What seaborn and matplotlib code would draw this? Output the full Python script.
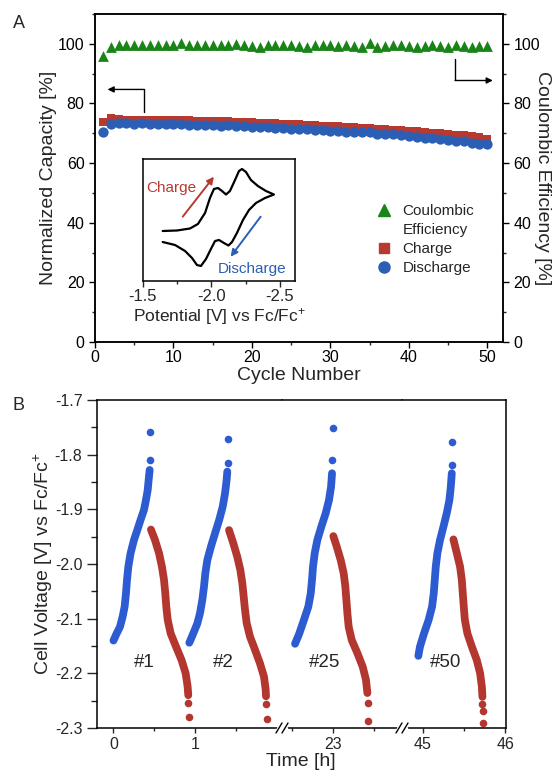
import matplotlib
matplotlib.use("Agg")
import matplotlib.pyplot as plt
import seaborn as sns
from matplotlib.lines import Line2D
from matplotlib.ticker import MultipleLocator, FixedLocator, FormatStrFormatter

sns.set_style("ticks")
plt.rcParams['font.family'] = ['Liberation Sans', 'DejaVu Sans']
plt.rcParams['mathtext.fontset'] = 'custom'
plt.rcParams['mathtext.rm'] = 'Liberation Sans'
plt.rcParams['mathtext.it'] = 'Liberation Sans'
plt.rcParams['mathtext.bf'] = 'Liberation Sans:bold'
plt.rcParams['axes.unicode_minus'] = False

# ---------------- panel A data
cycles = list(range(1, 51))
coulombic = [95.8, 98.9, 99.6, 99.6, 99.6, 99.6, 99.5, 99.6, 99.6, 99.7,
             100.2, 99.6, 99.5, 99.6, 99.6, 99.5, 99.6, 100.0, 99.6, 99.3,
             98.9, 99.5, 99.6, 99.5, 99.6, 99.4, 99.0, 99.6, 99.5, 99.7,
             99.2, 99.6, 99.4, 98.8, 100.3, 99.1, 99.4, 99.6, 99.5, 99.3,
             98.9, 99.4, 99.6, 99.2, 99.1, 99.5, 99.3, 98.9, 99.2, 99.3]
charge_cap = [73.9, 75.0, 74.7, 74.6, 74.6, 74.5, 74.5, 74.5, 74.4, 74.4,
              74.4, 74.3, 74.2, 74.2, 74.1, 74.0, 74.0, 73.9, 73.8, 73.7,
              73.6, 73.4, 73.3, 73.2, 73.2, 73.0, 72.9, 72.8, 72.6, 72.5,
              72.3, 72.2, 72.0, 71.8, 71.8, 71.6, 71.4, 71.2, 71.0, 70.8,
              70.6, 70.4, 70.2, 70.0, 69.8, 69.5, 69.3, 69.0, 68.6, 68.2]
discharge_cap = [70.5, 73.2, 73.3, 73.3, 73.2, 73.3, 73.2, 73.2, 73.1, 73.2,
                 73.1, 72.9, 72.7, 72.8, 72.7, 72.6, 72.7, 72.5, 72.4, 72.2,
                 72.1, 72.0, 71.9, 71.7, 71.6, 71.5, 71.3, 71.1, 71.0, 70.8,
                 70.6, 70.4, 70.5, 70.3, 70.4, 69.9, 69.7, 69.6, 69.3, 69.0,
                 68.7, 68.5, 68.3, 68.0, 67.8, 67.5, 67.3, 66.6, 66.5, 66.3]

# inset cyclic voltammogram (forward branch then return branch, arbitrary current)
cv_potential = [-1.644, -1.748, -1.843, -1.901, -1.953, -1.989, -2.018, -2.047,
                -2.077, -2.106, -2.135, -2.172, -2.201, -2.223, -2.252, -2.288,
                -2.339, -2.398, -2.456,
                -2.391, -2.325, -2.274, -2.230, -2.186, -2.150, -2.124, -2.091,
                -2.055, -2.026, -1.996, -1.960, -1.923, -1.894, -1.858, -1.807,
                -1.734, -1.644]
cv_current = [50, 50.5, 52.5, 57, 68, 83, 92, 93, 90, 86.5, 90, 101, 110, 112,
              109, 101, 95, 90, 86.5,
              83, 78, 71, 61, 48, 39, 35.5, 38, 41, 40, 32, 22, 15, 16, 23, 30,
              36, 39]

# ---------------- panel B data: time [h], voltage [V]
dis1_t = [0.0, 0.039, 0.079, 0.112, 0.136, 0.152, 0.165, 0.181, 0.209, 0.25,
          0.29, 0.331, 0.372, 0.396, 0.417, 0.429, 0.441]
dis1_v = [-2.140, -2.127, -2.115, -2.096, -2.078, -2.054, -2.029, -2.005, -1.980,
          -1.956, -1.938, -1.919, -1.901, -1.883, -1.865, -1.846, -1.828]
dis1_tip_t = [0.443, 0.445]
dis1_tip_v = [-1.810, -1.758]
chg1_t = [0.457, 0.506, 0.555, 0.591, 0.616, 0.632, 0.644, 0.661, 0.697, 0.762,
          0.831, 0.880, 0.904, 0.912]
chg1_v = [-1.937, -1.956, -1.980, -2.005, -2.029, -2.054, -2.078, -2.102, -2.127,
          -2.151, -2.176, -2.200, -2.224, -2.240]
chg1_tip_t = [0.912, 0.92]
chg1_tip_v = [-2.255, -2.279]

dis2_t = [0.925, 0.973, 1.022, 1.055, 1.083, 1.104, 1.120, 1.144, 1.189, 1.238,
          1.290, 1.332, 1.360, 1.380, 1.388]
dis2_v = [-2.144, -2.127, -2.109, -2.090, -2.066, -2.041, -2.017, -1.993, -1.968,
          -1.944, -1.919, -1.895, -1.871, -1.846, -1.831]
dis2_tip_t = [1.392, 1.400]
dis2_tip_v = [-1.815, -1.772]
chg2_t = [1.409, 1.461, 1.510, 1.547, 1.571, 1.588, 1.604, 1.624, 1.665, 1.726,
          1.787, 1.835, 1.856, 1.860]
chg2_v = [-1.938, -1.962, -1.987, -2.011, -2.035, -2.060, -2.084, -2.108, -2.133,
          -2.157, -2.182, -2.206, -2.230, -2.242]
chg2_tip_t = [1.864, 1.872]
chg2_tip_v = [-2.256, -2.284]

dis25_t = [22.537, 22.589, 22.646, 22.699, 22.728, 22.744, 22.756, 22.777, 22.809,
           22.857, 22.911, 22.951, 22.976, 22.988]
dis25_v = [-2.146, -2.127, -2.102, -2.078, -2.054, -2.029, -2.005, -1.980, -1.956,
           -1.932, -1.907, -1.883, -1.859, -1.834]
dis25_tip_t = [22.992, 22.996]
dis25_tip_v = [-1.810, -1.752]
chg25_t = [23.004, 23.045, 23.094, 23.130, 23.150, 23.163, 23.175, 23.191, 23.228,
           23.297, 23.362, 23.402, 23.419]
chg25_v = [-1.949, -1.968, -1.993, -2.017, -2.041, -2.066, -2.090, -2.115, -2.139,
           -2.163, -2.188, -2.212, -2.236]
chg25_tip_t = [23.421, 23.427]
chg25_tip_v = [-2.255, -2.287]

dis50_t = [44.943, 44.963, 45.012, 45.069, 45.110, 45.130, 45.143, 45.155, 45.175,
           45.207, 45.248, 45.289, 45.321, 45.338, 45.350]
dis50_v = [-2.168, -2.151, -2.127, -2.102, -2.078, -2.054, -2.029, -2.005, -1.980,
           -1.956, -1.932, -1.907, -1.883, -1.859, -1.834]
dis50_tip_t = [45.354, 45.358]
dis50_tip_v = [-1.819, -1.777]
chg50_t = [45.370, 45.411, 45.451, 45.472, 45.484, 45.496, 45.509, 45.540, 45.594,
           45.655, 45.695, 45.716, 45.723]
chg50_v = [-1.955, -1.980, -2.005, -2.029, -2.054, -2.078, -2.102, -2.127, -2.151,
           -2.176, -2.200, -2.224, -2.243]
chg50_tip_t = [45.723, 45.726, 45.732]
chg50_tip_v = [-2.256, -2.268, -2.290]

cycle_tags = ["#1", "#2", "#25", "#50"]
tag_t = [0.37, 1.345, 22.9, 45.27]
tag_v = -2.181

green = "#1a8418"
red = "#b73a31"
blue = "#2a5fb5"
blue_b = "#2d5bd1"
red_b = "#b3372f"

W, H = 553, 772
fig = plt.figure(figsize=(W / 100, H / 100), dpi=100)


def rect(x0, y0, x1, y1):  # pixel box -> figure fractions
    return [x0 / W, 1 - y1 / H, (x1 - x0) / W, (y1 - y0) / H]


# ================= panel A
axA = fig.add_axes(rect(95, 14, 503, 342))
axA2 = axA.twinx()

sns.scatterplot(x=cycles, y=charge_cap, marker='s', s=33, color=red,
                linewidth=0, ax=axA, zorder=3)
sns.scatterplot(x=cycles, y=discharge_cap, marker='o', s=55, color=blue,
                linewidth=0, ax=axA, zorder=4)
sns.scatterplot(x=cycles, y=coulombic, marker='^', s=60, color=green,
                linewidth=0, ax=axA2, zorder=3)

for a in (axA, axA2):
    a.set_xlim(0, 52)
    a.set_ylim(0, 110)
    a.yaxis.set_major_locator(MultipleLocator(20))
    a.yaxis.set_minor_locator(MultipleLocator(10))
    a.tick_params(axis='both', which='major', direction='out', length=4,
                  width=1, labelsize=11.5, colors='black')
    a.tick_params(axis='both', which='minor', direction='out', length=2.5, width=1)
    for s in a.spines.values():
        s.set_linewidth(1.1)
        s.set_color('black')
axA.xaxis.set_major_locator(MultipleLocator(10))
axA.xaxis.set_minor_locator(MultipleLocator(5))
axA.tick_params(axis='x', pad=2)
axA.set_xlabel("Cycle Number", fontsize=14, labelpad=1)
axA.set_ylabel("Normalized Capacity [%]", fontsize=14, labelpad=1)
axA2.set_ylabel("Coulombic Efficiency [%]", fontsize=14, rotation=270,
                ha='center', va='center')
axA2.yaxis.set_label_coords(1.096, 0.5)

# direction arrows
axA.plot([6.25, 6.25], [77.0, 84.7], color='black', lw=1)
axA.annotate('', xy=(1.6, 84.7), xytext=(6.25, 84.7),
             arrowprops=dict(arrowstyle='-|>', color='black', lw=1,
                             mutation_scale=9, shrinkA=0, shrinkB=0))
axA.plot([45.9, 45.9], [94.8, 87.7], color='black', lw=1)
axA.annotate('', xy=(50.7, 87.7), xytext=(45.9, 87.7),
             arrowprops=dict(arrowstyle='-|>', color='black', lw=1,
                             mutation_scale=9, shrinkA=0, shrinkB=0))

handles = [Line2D([], [], marker='^', ls='none', color=green, markersize=8),
           Line2D([], [], ls='none'),
           Line2D([], [], marker='s', ls='none', color=red, markersize=6.5),
           Line2D([], [], marker='o', ls='none', color=blue, markersize=8)]
labels = ["Coulombic", "Efficiency", "Charge", "Discharge"]
axA2.legend(handles, labels, loc='upper left', bbox_to_anchor=(0.69, 0.42),
            frameon=False, fontsize=11, handlelength=1.0, handletextpad=0.7,
            labelspacing=0.33, borderpad=0, borderaxespad=0)

fig.text(19 / W, 1 - 24 / H, "A", fontsize=13, ha='center', va='center')

# inset CV
axI = fig.add_axes(rect(143, 159, 295, 281))
axI.set_zorder(10)
axI.set_facecolor('white')
sns.lineplot(x=cv_potential, y=cv_current, sort=False, estimator=None,
             color='black', lw=1.6, ax=axI)
axI.set_xlim(-1.5, -2.61)
axI.set_ylim(0, 122)
axI.set_yticks([])
axI.xaxis.set_major_locator(FixedLocator([-1.5, -2.0, -2.5]))
axI.xaxis.set_minor_locator(FixedLocator([-1.75, -2.25]))
axI.xaxis.set_major_formatter(FormatStrFormatter('%.1f'))
axI.tick_params(axis='x', which='major', direction='out', length=4, width=1,
                labelsize=12, pad=2)
axI.tick_params(axis='x', which='minor', direction='out', length=2.5, width=1)
for s in axI.spines.values():
    s.set_linewidth(1.1)
    s.set_color('black')
axI.set_xlabel(r"Potential [V] vs Fc/Fc$^{+}$", fontsize=12.5, labelpad=1)
axI.annotate('', xy=(-2.018, 104.3), xytext=(-1.790, 64.3),
             arrowprops=dict(arrowstyle='-|>', color=red, lw=1.4,
                             mutation_scale=10, shrinkA=0, shrinkB=0))
axI.annotate('', xy=(-2.140, 24.3), xytext=(-2.359, 64.3),
             arrowprops=dict(arrowstyle='-|>', color=blue, lw=1.4,
                             mutation_scale=10, shrinkA=0, shrinkB=0))
axI.text(-1.707, 92.7, "Charge", color=red, fontsize=11, ha='center', va='center')
axI.text(-2.30, 11.7, "Discharge", color=blue, fontsize=11, ha='center', va='center')

# ================= panel B (broken time axis)
axB1 = fig.add_axes(rect(97, 400, 282, 728))
axB2 = fig.add_axes(rect(282, 400, 402, 728), sharey=axB1)
axB3 = fig.add_axes(rect(402, 400, 506, 728), sharey=axB1)

axB1.set_xlim(-0.201, 2.055)
axB2.set_xlim(22.378, 23.841)
axB3.set_xlim(44.744, 46.01)
axB1.set_ylim(-2.3, -1.7)

curves = [
    (axB1, dis1_t, dis1_v, dis1_tip_t, dis1_tip_v, blue_b),
    (axB1, chg1_t, chg1_v, chg1_tip_t, chg1_tip_v, red_b),
    (axB1, dis2_t, dis2_v, dis2_tip_t, dis2_tip_v, blue_b),
    (axB1, chg2_t, chg2_v, chg2_tip_t, chg2_tip_v, red_b),
    (axB2, dis25_t, dis25_v, dis25_tip_t, dis25_tip_v, blue_b),
    (axB2, chg25_t, chg25_v, chg25_tip_t, chg25_tip_v, red_b),
    (axB3, dis50_t, dis50_v, dis50_tip_t, dis50_tip_v, blue_b),
    (axB3, chg50_t, chg50_v, chg50_tip_t, chg50_tip_v, red_b),
]
for ax, t, v, tt, tv, col in curves:
    sns.lineplot(x=t, y=v, sort=False, estimator=None, color=col, lw=5.6,
                 solid_capstyle='round', solid_joinstyle='round', ax=ax)
    sns.scatterplot(x=tt, y=tv, s=30, color=col, linewidth=0, ax=ax)

for ax, tag, tt in zip([axB1, axB1, axB2, axB3], cycle_tags, tag_t):
    ax.text(tt, tag_v, tag, fontsize=13.5, ha='center', va='center')

axB1.xaxis.set_major_locator(FixedLocator([0, 1]))
axB1.xaxis.set_minor_locator(FixedLocator([0.5, 1.5]))
axB2.xaxis.set_major_locator(FixedLocator([23]))
axB2.xaxis.set_minor_locator(FixedLocator([22.5, 23.5]))
axB3.xaxis.set_major_locator(FixedLocator([45, 46]))
axB3.xaxis.set_minor_locator(FixedLocator([45.5]))
axB1.yaxis.set_major_locator(MultipleLocator(0.1))
axB1.yaxis.set_minor_locator(MultipleLocator(0.05))
axB1.yaxis.set_major_formatter(FormatStrFormatter('%.1f'))

for ax in (axB1, axB2, axB3):
    ax.tick_params(axis='x', which='major', direction='out', length=3.5,
                   width=1, labelsize=11.5, pad=3)
    ax.tick_params(axis='x', which='minor', direction='out', length=2, width=1)
    ax.tick_params(axis='y', which='major', direction='out', length=7,
                   width=1, labelsize=11.5)
    ax.tick_params(axis='y', which='minor', direction='out', length=4, width=1)
    for s in ax.spines.values():
        s.set_linewidth(1.1)
        s.set_color('black')
axB1.spines['right'].set_visible(False)
axB2.spines['left'].set_visible(False)
axB2.spines['right'].set_visible(False)
axB3.spines['left'].set_visible(False)
for ax in (axB2, axB3):
    ax.tick_params(axis='y', which='both', left=False, labelleft=False)

axB1.set_ylabel(r"Cell Voltage [V] vs Fc/Fc$^{+}$", fontsize=14, labelpad=0)
fig.text(301 / W, 1 - 762 / H, "Time [h]", fontsize=14, ha='center', va='center')
fig.text(19 / W, 1 - 406 / H, "B", fontsize=13, ha='center', va='center')

# break marks on the time axis
for xb in (282, 402):
    fig.add_artist(Line2D([(xb - 4) / W, (xb + 4) / W], [1 - 728 / H, 1 - 728 / H],
                          color='white', lw=2.5, transform=fig.transFigure))
    for dx in (-3, 3):
        x = xb + dx
        fig.add_artist(Line2D([(x - 3) / W, (x + 3) / W],
                              [1 - 733 / H, 1 - 723 / H],
                              color='black', lw=1, transform=fig.transFigure))

plt.savefig("out.png", dpi=100)
